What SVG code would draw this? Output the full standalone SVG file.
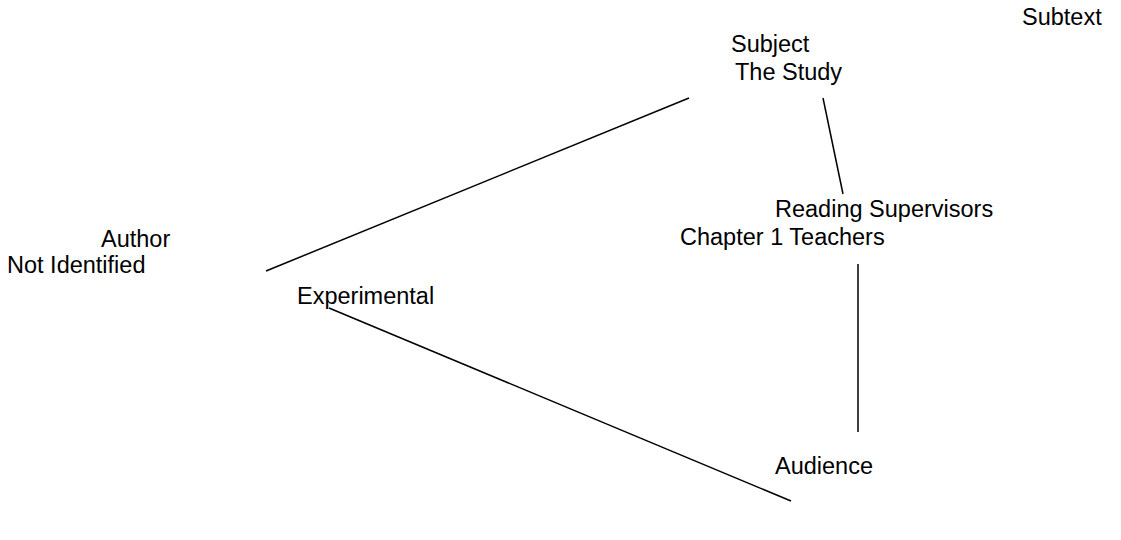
<svg xmlns="http://www.w3.org/2000/svg" width="1121" height="540" viewBox="0 0 1121 540">
  <style>
    text { font-family: "Liberation Sans", Arial, sans-serif; font-size: 23.5px; fill: #000; }
    .link { stroke: #000; stroke-width: 1.5; fill: none; }
  </style>
  <rect width="1121" height="540" fill="#fff"/>
  <g id="connectors">
    <line class="link" x1="266" y1="271" x2="689" y2="98"/>
    <line class="link" x1="823" y1="98" x2="843" y2="194"/>
    <line class="link" x1="858" y1="264" x2="858" y2="432"/>
    <line class="link" x1="329" y1="308" x2="791" y2="501"/>
  </g>
  <g id="subtext"><text x="1022" y="25">Subtext</text></g>
  <g id="subject">
    <text x="731" y="52">Subject</text>
    <text x="735" y="80">The Study</text>
  </g>
  <g id="author">
    <text x="101" y="247">Author</text>
    <text x="7" y="273">Not Identified</text>
  </g>
  <g id="experimental"><text x="297" y="304">Experimental</text></g>
  <g id="readers">
    <text x="775" y="217">Reading Supervisors</text>
    <text x="680" y="245">Chapter 1 Teachers</text>
  </g>
  <g id="audience"><text x="775" y="474">Audience</text></g>
</svg>
